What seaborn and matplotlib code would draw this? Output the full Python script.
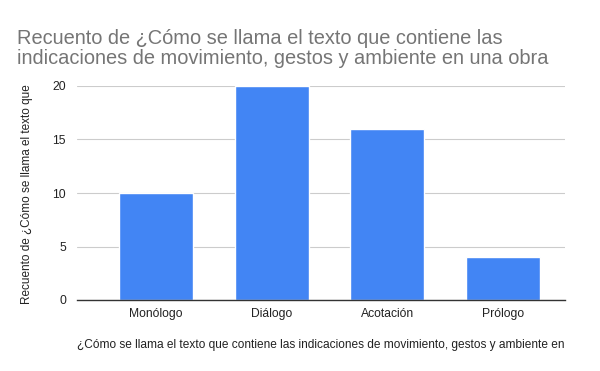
import matplotlib
matplotlib.use("Agg")
import matplotlib.pyplot as plt
import seaborn as sns
import pandas as pd

categories = ["Monólogo", "Diálogo", "Acotación", "Prólogo"]
counts = [10, 20, 16, 4]
yticks = [0, 5, 10, 15, 20]

sns.set_theme(style="white")
plt.rcParams['font.family'] = ['Liberation Sans', 'DejaVu Sans']

df = pd.DataFrame({"cat": categories, "n": counts})

fig = plt.figure(figsize=(6, 3.71), dpi=100)
ax = fig.add_axes([77/600, 1-300/371, (565-77)/600, (300-86)/371])
sns.barplot(data=df, x="cat", y="n", color="#4285F4", saturation=1, width=0.64, ax=ax, zorder=3)
ax.set_xlim(-0.683, 3.535)
ax.set_ylim(0, 20)
ax.set_yticks(yticks)
ax.set_yticklabels([str(v) for v in yticks])
ax.yaxis.grid(True, color="#cccccc", linewidth=0.8, zorder=0)
ax.set_axisbelow(True)
for s in ["top", "right", "left"]:
    ax.spines[s].set_visible(False)
ax.spines["bottom"].set_color("#333333")
ax.spines["bottom"].set_linewidth(1)
ax.spines["bottom"].set_zorder(4)
ax.tick_params(axis="both", length=0, labelsize=8.7, labelcolor="#222222")
ax.tick_params(axis="x", pad=6)
ax.tick_params(axis="y", pad=8)
ax.set_xlabel("")
ax.set_ylabel("")

fig.text(17/600, 1-38/371, "Recuento de ¿Cómo se llama el texto que contiene las",
         fontsize=14.4, color="#757575", ha="left", va="center")
fig.text(17/600, 1-58/371, "indicaciones de movimiento, gestos y ambiente en una obra",
         fontsize=14.4, color="#757575", ha="left", va="center")
fig.text(27/600, 1-194/371, "Recuento de ¿Cómo se llama el texto que", rotation=90,
         fontsize=8.5, color="#222222", ha="center", va="center")
fig.text(321/600, 1-345/371, "¿Cómo se llama el texto que contiene las indicaciones de movimiento, gestos y ambiente en",
         fontsize=8.6, color="#222222", ha="center", va="center")

fig.savefig("out.png", dpi=100, facecolor="white")
